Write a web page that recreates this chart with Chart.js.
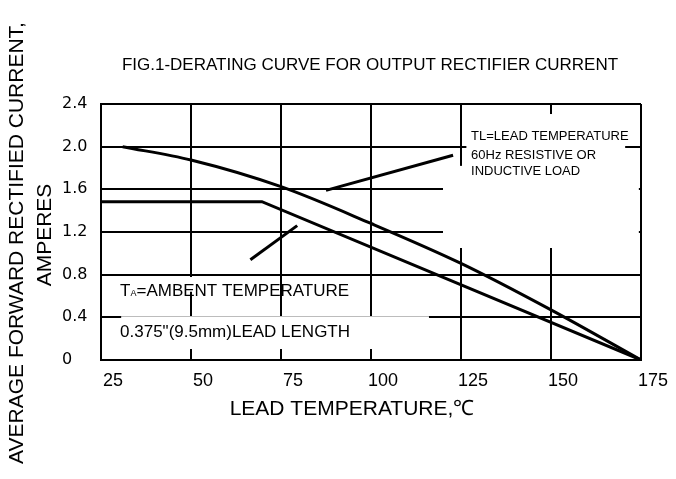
<!DOCTYPE html>
<html>
<head>
<meta charset="utf-8">
<script src="https://cdn.jsdelivr.net/npm/chart.js@4.4.1/dist/chart.umd.min.js"></script>
<style>
  html, body { margin: 0; padding: 0; background: #fff; }
</style>
</head>
<body>
<canvas id="derating" width="676" height="479"></canvas>
<script>
// ===============================
// DONNEES
// ===============================

const xTicks = [25, 50, 75, 100, 125, 150, 175];
const yTicks = [0, 0.4, 0.8, 1.2, 1.6, 2.0, 2.4];

// courbe TL = lead temperature
const tlTemp    = [31, 50, 75, 100, 125, 150, 175];
const tlCurrent = [2.0, 1.875, 1.625, 1.28, 0.906, 0.47, 0];

// courbe TA = ambient temperature
const taTemp    = [25, 69.7, 175];
const taCurrent = [1.484, 1.484, 0];

// traits de renvoi vers les notes
const leaderTLTemp    = [87.5, 122.8];
const leaderTLCurrent = [1.59, 1.92];
const leaderTATemp    = [66.5, 79.5];
const leaderTACurrent = [0.94, 1.26];

const pts = (xs, ys) => xs.map((x, i) => ({ x: x, y: ys[i] }));

const FONT = '"Liberation Sans", Arial, sans-serif';

// ===============================
// PLUGINS
// ===============================

// fond blanc
const whiteBg = {
    id: 'whiteBg',
    beforeDraw(chart) {
        const c = chart.ctx;
        c.save();
        c.fillStyle = '#fff';
        c.fillRect(0, 0, chart.width, chart.height);
        c.restore();
    }
};

// zones sans quadrillage derriere les textes (en unites du graphe)
const gaps = [
    [126.5, 170.6, 2.306, 1.05],
    [120, 174.4, 1.82, 1.05],
    [30.6, 73.6, 0.778, 0.64],
    [30.6, 116.1, 0.41, 0.103]
];

const gridGaps = {
    id: 'gridGaps',
    beforeDatasetsDraw(chart) {
        const c = chart.ctx, sx = chart.scales.x, sy = chart.scales.y;
        c.save();
        c.fillStyle = '#fff';
        gaps.forEach(g => {
            const x0 = sx.getPixelForValue(g[0]), x1 = sx.getPixelForValue(g[1]);
            const y0 = sy.getPixelForValue(g[2]), y1 = sy.getPixelForValue(g[3]);
            c.fillRect(x0, y0, x1 - x0, y1 - y0);
        });
        c.restore();
    }
};

// titres + notes
const notes = {
    id: 'notes',
    afterDatasetsDraw(chart) {
        const c = chart.ctx, sx = chart.scales.x, sy = chart.scales.y;
        c.save();
        c.fillStyle = '#000';
        c.textBaseline = 'middle';

        // titre de la figure
        c.textAlign = 'center';
        c.font = '17px ' + FONT;
        c.fillText('FIG.1-DERATING CURVE FOR OUTPUT RECTIFIER CURRENT', 370, 65);

        // titre axe X
        c.font = '21px ' + FONT;
        c.fillText('LEAD TEMPERATURE,℃', 352, 409);

        c.textAlign = 'left';
        c.font = '13px ' + FONT;
        const tx = sx.getPixelForValue(127.8);
        c.fillText('TL=LEAD TEMPERATURE', tx, sy.getPixelForValue(2.10));
        c.fillText('60Hz RESISTIVE OR', tx, sy.getPixelForValue(1.92));
        c.fillText('INDUCTIVE LOAD', tx, sy.getPixelForValue(1.77));

        const ax = sx.getPixelForValue(30.3);
        const ay = sy.getPixelForValue(0.647);
        c.font = '17px ' + FONT;
        c.fillText('T', ax, ay);
        let w = c.measureText('T').width;
        c.font = '9px ' + FONT;
        c.fillText('A', ax + w, ay + 3);
        w += c.measureText('A').width;
        c.font = '17px ' + FONT;
        c.fillText('=AMBENT TEMPERATURE', ax + w, ay);

        c.fillText('0.375"(9.5mm)LEAD LENGTH', ax, sy.getPixelForValue(0.258));

        // titre axe Y, deux lignes verticales
        c.font = '21px ' + FONT;
        c.textAlign = 'center';
        c.translate(17, 243);
        c.rotate(-Math.PI / 2);
        c.fillText('AVERAGE FORWARD RECTIFIED CURRENT,', 0, 0);
        c.fillText('AMPERES', 8, 28);
        c.restore();
    }
};

// ===============================
// GRAPHIQUE
// ===============================

const lineStyle = {
    borderColor: '#000',
    borderWidth: 3,
    pointRadius: 0,
    fill: false
};

new Chart(document.getElementById('derating'), {
    type: 'line',
    data: {
        datasets: [
            Object.assign({ label: 'TL', data: pts(tlTemp, tlCurrent), cubicInterpolationMode: 'monotone' }, lineStyle),
            Object.assign({ label: 'TA', data: pts(taTemp, taCurrent), tension: 0 }, lineStyle),
            Object.assign({ label: 'leaderTL', data: pts(leaderTLTemp, leaderTLCurrent), tension: 0 }, lineStyle),
            Object.assign({ label: 'leaderTA', data: pts(leaderTATemp, leaderTACurrent), tension: 0 }, lineStyle)
        ]
    },
    options: {
        responsive: false,
        animation: false,
        layout: { padding: { left: 62, right: 35, top: 104, bottom: 0 } },
        plugins: {
            legend: { display: false },
            tooltip: { enabled: false }
        },
        scales: {
            x: {
                type: 'linear',
                min: 25,
                max: 175,
                afterBuildTicks: s => { s.ticks = xTicks.map(v => ({ value: v })); },
                afterFit: s => { s.height = 119; },
                ticks: {
                    color: '#000',
                    padding: 10,
                    labelOffset: 12,
                    maxRotation: 0,
                    font: { family: FONT, size: 18 }
                },
                grid: { color: '#000', lineWidth: 2, drawTicks: false },
                border: { color: '#000', width: 2 }
            },
            y: {
                type: 'linear',
                min: 0,
                max: 2.4,
                afterBuildTicks: s => { s.ticks = yTicks.map(v => ({ value: v })); },
                afterFit: s => { s.width = 39; },
                ticks: {
                    color: '#000',
                    crossAlign: 'far',
                    font: { family: '"DejaVu Sans", sans-serif', size: 16 },
                    callback: v => v === 0 ? '0' : v.toFixed(1)
                },
                grid: { color: '#000', lineWidth: 2, drawTicks: false },
                border: { color: '#000', width: 2 }
            }
        }
    },
    plugins: [whiteBg, gridGaps, notes]
});
</script>
</body>
</html>
